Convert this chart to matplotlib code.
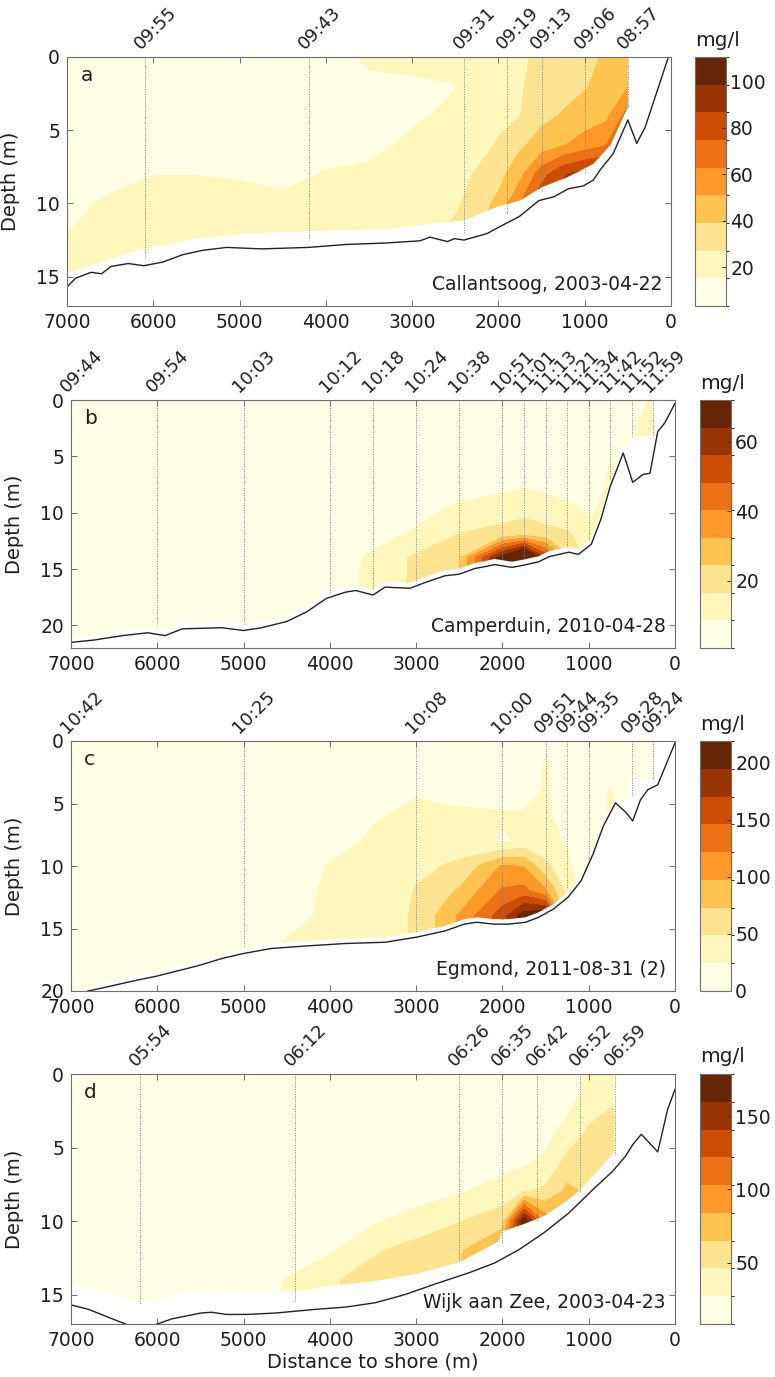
import numpy as np
import matplotlib
matplotlib.use("Agg")
import matplotlib.pyplot as plt
from matplotlib.patches import Polygon
from matplotlib.colors import ListedColormap, BoundaryNorm
from matplotlib.cm import ScalarMappable

plt.rcParams['font.family'] = ['DejaVu Sans']

# 9-class yellow-orange-brown scale used in all panels
band_colors = ['#ffffe5', '#fff7bc', '#fee391', '#fec44f', '#fe9929',
               '#ec7014', '#cc4c02', '#993404', '#662506']

# distance to shore of the concentration profiles (m)
grid_x = [7000, 6500, 6000, 5500, 5000, 4500, 4000, 3500, 3000, 2500,
          2000, 1750, 1500, 1250, 1000, 750, 500, 250, 0]

# ---------------- panel a: Callantsoog ----------------
a_depth = [0, 2, 4, 6, 8, 10, 12, 14, 16, 18]
a_profiles = [
    [8, 8, 8, 8, 9, 11, 15, 20, 20, 20],
    [8, 8, 8, 8, 10, 18, 21, 24, 24, 24],
    [8, 8, 8, 8, 15, 20, 22, 32, 32, 32],
    [8, 8, 8, 8, 15, 21, 22, 30, 30, 30],
    [8, 8, 8, 8, 14, 20, 21, 24, 24, 24],
    [8, 8, 8, 8, 12, 18, 20, 21, 21, 21],
    [8, 8, 8, 11, 16, 20, 20, 21, 21, 21],
    [18, 12, 12, 13, 17, 20, 21, 22, 22, 22],
    [19, 13, 14, 17, 19, 21, 23, 25, 25, 25],
    [19, 15, 17, 20, 22, 25, 30, 30, 30, 30],
    [22, 24, 25, 28, 35, 42, 45, 45, 45, 45],
    [25, 26, 27, 37, 47, 62, 62, 62, 62, 62],
    [30, 32, 36, 44, 70, 85, 85, 85, 85, 85],
    [32, 35, 40, 50, 85, 95, 95, 95, 95, 95],
    [33, 38, 45, 56, 92, 100, 100, 100, 100, 100],
    [42, 44, 48, 62, 95, 100, 100, 100, 100, 100],
    [45, 50, 68, 95, 100, 100, 100, 100, 100, 100],
    [45, 50, 68, 95, 100, 100, 100, 100, 100, 100],
    [45, 50, 68, 95, 100, 100, 100, 100, 100, 100],
]
a_levels = [3.4, 15.3, 27.2, 39.1, 51.0, 62.9, 74.7, 86.6, 98.5, 110.4]
a_cticks = [20, 40, 60, 80, 100]
a_bed_x = [7000, 6900, 6720, 6600, 6490, 6290, 6110, 5890, 5660, 5430, 5150, 4745,
           4200, 3770, 3310, 2910, 2795, 2590, 2510, 2400, 2280, 2130, 1990, 1760,
           1530, 1360, 1190, 1015, 900, 820, 670, 500, 397, 300, 30]
a_bed_z = [15.7, 15.1, 14.7, 14.8, 14.3, 14.1, 14.25, 14.0, 13.5, 13.2, 13.0, 13.1,
           13.0, 12.8, 12.7, 12.55, 12.3, 12.6, 12.4, 12.5, 12.3, 12.05, 11.6, 10.9,
           9.8, 9.55, 9.0, 8.8, 8.4, 7.7, 6.6, 4.3, 5.9, 4.8, 0.0]
a_floor_x = [7000, 6700, 6300, 6100, 5500, 4900, 4200, 3200, 2800, 2400, 2000,
             1750, 1500, 1200, 900, 700, 500]
a_floor_z = [14.8, 14.2, 13.4, 13.1, 12.4, 12.05, 11.9, 11.7, 11.4, 11.15, 10.2,
             9.8, 8.9, 8.2, 7.3, 6.0, 3.4]
a_station_x = [6100, 4200, 2400, 1900, 1500, 1000, 500]
a_station_t = ['09:55', '09:43', '09:31', '09:19', '09:13', '09:06', '08:57']
a_station_bottom = [13.7, 12.5, 12.0, 10.7, 9.2, 8.0, 3.4]

# ---------------- panel b: Camperduin ----------------
b_depth = [0, 2, 4, 6, 8, 10, 12, 14, 16, 18, 20, 22]
b_profiles = [
    [4, 4, 4, 4, 4, 4, 4, 4, 4, 4, 4, 4],
    [4, 4, 4, 4, 4, 4, 4, 4, 4, 4, 4, 4],
    [4, 4, 4, 4, 4, 4, 4, 4, 4, 4, 4, 4],
    [4, 4, 4, 4, 4, 4, 4, 4, 4, 4, 4, 4],
    [4, 4, 4, 4, 4, 4, 4, 4, 4, 4, 4, 4],
    [4, 4, 4, 4, 4, 4, 4, 4, 4, 4, 4, 4],
    [4, 4, 4, 4, 4, 4, 4, 4, 4, 4, 4, 4],
    [4, 4, 4, 4, 4, 4, 6, 10, 11, 11, 11, 11],
    [4, 4, 4, 4, 4, 6, 10, 18, 18, 18, 18, 18],
    [4, 4, 4, 4, 6, 11, 17, 23, 23, 23, 23, 23],
    [4, 4, 4, 4, 8, 13, 20, 70, 70, 70, 70, 70],
    [4, 4, 4, 4, 9, 14, 24, 90, 90, 90, 90, 90],
    [4, 4, 4, 4, 8, 12, 20, 55, 55, 55, 55, 55],
    [4, 4, 4, 4, 6, 11, 18, 26, 26, 26, 26, 26],
    [4, 4, 4, 4, 5, 8, 12, 12, 12, 12, 12, 12],
    [4, 4, 5, 9, 10, 10, 10, 10, 10, 10, 10, 10],
    [5, 7, 8, 8, 8, 8, 8, 8, 8, 8, 8, 8],
    [10, 12, 17, 17, 17, 17, 17, 17, 17, 17, 17, 17],
    [10, 12, 17, 17, 17, 17, 17, 17, 17, 17, 17, 17],
]
b_levels = [0.7, 8.6, 16.5, 24.4, 32.3, 40.3, 48.2, 56.1, 64.0, 71.9]
b_cticks = [20, 40, 60]
b_bed_x = [7000, 6740, 6400, 6110, 5910, 5710, 5250, 5000, 4790, 4500, 4270, 4040,
           3820, 3700, 3500, 3360, 3070, 2900, 2670, 2500, 2320, 2180, 2090, 1890,
           1750, 1580, 1460, 1230, 1120, 970, 860, 750, 600, 490, 370, 290, 200, 120, 0]
b_bed_z = [21.5, 21.3, 20.9, 20.65, 20.9, 20.3, 20.2, 20.45, 20.2, 19.65, 18.8, 17.6,
           17.05, 16.9, 17.3, 16.6, 16.7, 16.2, 15.6, 15.45, 14.95, 14.75, 14.6, 14.85,
           14.65, 14.35, 13.9, 13.5, 13.7, 12.8, 10.6, 7.65, 4.7, 7.3, 6.6, 6.5, 2.8, 2.05, 0.3]
b_floor_x = [7000, 6740, 6400, 6110, 5910, 5710, 5250, 5000, 4790, 4500, 4270, 4040,
             3820, 3700, 3500, 3360, 3070, 2900, 2670, 2500, 2320, 2180, 2090, 1890,
             1750, 1580, 1460, 1230, 1120, 970, 860, 750, 620, 540, 500, 250]
b_floor_z = [21.0, 20.8, 20.4, 20.15, 20.4, 19.8, 19.7, 19.95, 19.7, 19.15, 18.3, 17.1,
             16.55, 16.4, 16.8, 16.1, 16.2, 15.7, 15.1, 14.95, 14.45, 14.25, 14.1, 14.35,
             14.15, 13.85, 13.4, 13.0, 13.2, 12.3, 10.1, 7.15, 4.3, 4.0, 3.3, 3.1]
b_station_x = [7000, 6000, 5000, 4000, 3500, 3000, 2500, 2000, 1750, 1500, 1250,
               1000, 750, 500, 250]
b_station_t = ['09:44', '09:54', '10:03', '10:12', '10:18', '10:24', '10:38', '10:51',
               '11:01', '11:13', '11:21', '11:34', '11:42', '11:52', '11:59']
b_station_bottom = [21.0, 19.9, 19.9, 17.1, 16.8, 16.2, 14.9, 14.1, 14.1, 13.6, 13.0,
                    12.4, 7.1, 3.3, 3.1]

# ---------------- panel c: Egmond ----------------
c_depth = [0, 2, 4, 6, 8, 10, 12, 14, 16, 18, 20]
c_profiles = [
    [10, 10, 10, 10, 10, 10, 10, 10, 10, 10, 10],
    [10, 10, 10, 10, 10, 10, 10, 10, 10, 10, 10],
    [10, 10, 10, 10, 10, 10, 10, 10, 10, 10, 10],
    [10, 10, 10, 10, 10, 10, 10, 10, 10, 10, 10],
    [10, 10, 10, 10, 10, 10, 10, 10, 10, 10, 10],
    [10, 10, 10, 10, 10, 10, 10, 12, 26, 26, 26],
    [10, 10, 10, 10, 14, 26, 30, 32, 32, 32, 32],
    [10, 10, 10, 22, 28, 30, 32, 34, 34, 34, 34],
    [10, 10, 22, 30, 32, 44, 50, 52, 52, 52, 52],
    [10, 10, 14, 30, 40, 52, 76, 100, 100, 100, 100],
    [10, 10, 12, 28, 20, 100, 125, 160, 160, 160, 160],
    [10, 10, 12, 28, 30, 95, 130, 210, 210, 210, 210],
    [22, 26, 27, 28, 30, 55, 100, 220, 220, 220, 220],
    [12, 12, 12, 16, 22, 28, 40, 40, 40, 40, 40],
    [10, 10, 10, 10, 10, 10, 10, 10, 10, 10, 10],
    [10, 10, 26, 26, 26, 26, 26, 26, 26, 26, 26],
    [10, 10, 10, 10, 10, 10, 10, 10, 10, 10, 10],
    [10, 10, 10, 10, 10, 10, 10, 10, 10, 10, 10],
    [10, 10, 10, 10, 10, 10, 10, 10, 10, 10, 10],
]
c_levels = [0, 24.3, 48.7, 73.0, 97.3, 121.7, 146.0, 170.3, 194.7, 219.0]
c_cticks = [0, 50, 100, 150, 200]
c_bed_x = [7000, 6800, 6600, 6280, 6000, 5540, 5250, 5000, 4680, 4280, 3820, 3360,
           3000, 2670, 2440, 2300, 2100, 1930, 1730, 1580, 1410, 1240, 1090, 950,
           830, 690, 570, 490, 400, 315, 200, 0]
c_bed_z = [20.4, 20.0, 19.7, 19.2, 18.8, 18.0, 17.4, 17.0, 16.6, 16.4, 16.2, 16.1,
           15.7, 15.2, 14.65, 14.5, 14.65, 14.65, 14.5, 14.1, 13.45, 12.5, 11.2, 9.05,
           6.8, 4.95, 5.7, 6.4, 4.7, 3.9, 3.5, 0.15]
c_floor_x = [7000, 6800, 6600, 6280, 6000, 5540, 5250, 5000, 4680, 4280, 3820, 3360,
             3000, 2670, 2440, 2300, 2100, 1930, 1730, 1580, 1410, 1240, 1090, 950,
             830, 690, 600, 500, 250]
c_floor_z = [20.0, 19.6, 19.3, 18.8, 18.4, 17.6, 17.0, 16.6, 16.2, 16.0, 15.8, 15.7,
             15.3, 14.8, 14.25, 14.1, 14.25, 14.25, 14.1, 13.7, 13.05, 12.1, 10.8, 8.65,
             6.4, 4.6, 5.0, 3.0, 3.0]
c_station_x = [7000, 5000, 3000, 2000, 1500, 1250, 1000, 500, 250]
c_station_t = ['10:42', '10:25', '10:08', '10:00', '09:51', '09:44', '09:35', '09:28', '09:24']
c_station_bottom = [20.0, 16.5, 15.3, 14.3, 14.0, 11.8, 9.5, 4.3, 3.0]

# ---------------- panel d: Wijk aan Zee ----------------
d_depth = [0, 2, 4, 6, 8, 10, 12, 14, 16, 18]
d_profiles = [
    [15, 15, 15, 15, 15, 15, 15, 15, 15, 15],
    [15, 15, 15, 15, 15, 15, 15, 15, 15, 15],
    [15, 15, 15, 15, 15, 15, 15, 15, 15, 15],
    [15, 15, 15, 15, 15, 15, 15, 15, 15, 15],
    [15, 15, 15, 15, 15, 15, 15, 15, 15, 15],
    [15, 15, 15, 15, 15, 15, 15, 28, 30, 30],
    [15, 15, 15, 15, 15, 15, 24, 44, 44, 44],
    [15, 15, 15, 15, 15, 24, 44, 52, 52, 52],
    [15, 15, 15, 15, 17, 36, 52, 55, 55, 55],
    [15, 15, 15, 15, 25, 45, 62, 66, 66, 66],
    [15, 15, 15, 20, 36, 56, 90, 90, 90, 90],
    [15, 15, 15, 24, 45, 175, 175, 175, 175, 175],
    [15, 15, 22, 30, 50, 95, 95, 95, 95, 95],
    [15, 20, 34, 52, 70, 80, 80, 80, 80, 80],
    [28, 40, 48, 56, 62, 62, 62, 62, 62, 62],
    [38, 44, 55, 58, 58, 58, 58, 58, 58, 58],
    [38, 44, 55, 58, 58, 58, 58, 58, 58, 58],
    [38, 44, 55, 58, 58, 58, 58, 58, 58, 58],
    [38, 44, 55, 58, 58, 58, 58, 58, 58, 58],
]
d_levels = [8, 27, 46, 65, 84, 103, 122, 141, 160, 179]
d_cticks = [50, 100, 150]
d_bed_x = [7000, 6800, 6370, 6200, 6000, 5830, 5490, 5370, 5200, 4960, 4620, 4160,
           3815, 3470, 3130, 2790, 2380, 2090, 1810, 1520, 1230, 950, 720, 575, 490,
           390, 200, 85, 0]
d_bed_z = [15.7, 16.0, 17.0, 17.4, 17.0, 16.65, 16.25, 16.2, 16.35, 16.35, 16.25, 16.0,
           15.85, 15.55, 15.0, 14.3, 13.5, 12.85, 11.95, 10.8, 9.45, 7.85, 6.6, 5.6, 4.8,
           4.1, 5.3, 2.4, 1.05]
d_floor_x = [7000, 6200, 5500, 4400, 4000, 3500, 3000, 2500, 2050, 2000, 1750, 1500,
             1250, 1100, 900, 700]
d_floor_z = [14.2, 15.5, 14.7, 14.8, 14.4, 14.1, 13.6, 12.8, 11.4, 10.7, 10.2, 9.6,
             8.6, 7.9, 6.6, 5.3]
d_station_x = [6200, 4400, 2500, 2000, 1600, 1100, 700]
d_station_t = ['05:54', '06:12', '06:26', '06:35', '06:42', '06:52', '06:59']
d_station_bottom = [15.7, 15.45, 12.7, 11.5, 10.0, 8.0, 5.5]

panels = [
    ('a', 'Callantsoog, 2003-04-22', a_depth, a_profiles, a_levels, a_cticks, 17,
     a_bed_x, a_bed_z, a_floor_x, a_floor_z, a_station_x, a_station_t, a_station_bottom),
    ('b', 'Camperduin, 2010-04-28', b_depth, b_profiles, b_levels, b_cticks, 22,
     b_bed_x, b_bed_z, b_floor_x, b_floor_z, b_station_x, b_station_t, b_station_bottom),
    ('c', 'Egmond, 2011-08-31 (2)', c_depth, c_profiles, c_levels, c_cticks, 20,
     c_bed_x, c_bed_z, c_floor_x, c_floor_z, c_station_x, c_station_t, c_station_bottom),
    ('d', 'Wijk aan Zee, 2003-04-23', d_depth, d_profiles, d_levels, d_cticks, 17,
     d_bed_x, d_bed_z, d_floor_x, d_floor_z, d_station_x, d_station_t, d_station_bottom),
]

# axes boxes in pixels: left, top, bottom (figure is 775 x 1377)
W, H = 775, 1377
boxes = [(67, 57, 306), (71, 400, 648), (71, 741, 991), (71, 1074, 1324)]
cbar_left = [695, 700, 700, 700]

fig = plt.figure(figsize=(W / 100, H / 100), dpi=100)
frame_col = '#6e6e6e'
text_col = '#1e1e1e'

for i, (letter, place, depth, profiles, levels, cticks, zmax,
        bed_x, bed_z, floor_x, floor_z, st_x, st_t, st_bot) in enumerate(panels):
    left, top, bottom = boxes[i]
    ax = fig.add_axes([left / W, 1 - bottom / H, 604 / W, (bottom - top) / H])
    cax = fig.add_axes([cbar_left[i] / W, 1 - bottom / H, 31 / W, (bottom - top) / H])

    conc = np.array(profiles, dtype=float).T
    fill_levels = [-1e6] + levels[1:-1] + [1e6]
    cs = ax.contourf(grid_x, depth, conc, levels=fill_levels, colors=band_colors)

    # only the measured part of the section is coloured
    verts = [(floor_x[0], 0), (floor_x[-1], 0)] + list(zip(floor_x[::-1], floor_z[::-1]))
    clip = Polygon(verts, closed=True, transform=ax.transData)
    cs.set_clip_path(clip)

    ax.plot(bed_x, bed_z, color='#222222', lw=1.0)

    for sx, st, sb in zip(st_x, st_t, st_bot):
        ax.plot([sx, sx], [0, sb], color='#808080', lw=0.7, ls=(0, (1, 1.5)))
        ax.annotate(st, xy=(sx, 1.0), xycoords=ax.get_xaxis_transform(),
                    xytext=(-1, 3), textcoords='offset points', rotation=45,
                    rotation_mode='anchor', ha='left', va='bottom',
                    fontsize=13, color=text_col)

    ax.set_xlim(7000, 0)
    ax.set_ylim(zmax, 0)
    ax.set_xticks(range(7000, -1, -1000))
    ax.set_yticks(range(0, zmax + 1, 5))
    ax.tick_params(direction='in', top=True, right=True, length=4, width=0.7,
                   color=frame_col, labelsize=13.5, labelcolor=text_col, pad=5)
    for sp in ax.spines.values():
        sp.set_color(frame_col)
        sp.set_linewidth(0.8)
    ax.set_ylabel('Depth (m)', fontsize=14, color=text_col)
    ax.yaxis.set_label_coords(-0.078, 0.5)

    ax.text(0.022, 0.925, letter, transform=ax.transAxes, ha='left', va='center',
            fontsize=14.5, color=text_col)
    ax.text(0.985, 0.085, place, transform=ax.transAxes, ha='right', va='center',
            fontsize=13.5, color=text_col)

    sm = ScalarMappable(norm=BoundaryNorm(levels, len(band_colors)),
                        cmap=ListedColormap(band_colors))
    cb = fig.colorbar(sm, cax=cax, ticks=cticks)
    cb.outline.set_edgecolor(frame_col)
    cb.outline.set_linewidth(0.8)
    cax.tick_params(direction='in', length=3, width=0.7, color='#333333',
                    labelsize=13.5, labelcolor=text_col, pad=3)
    cax.text(0.0, 1.03, 'mg/l', transform=cax.transAxes, ha='left', va='bottom',
             fontsize=14.5, color=text_col)

    if i == 3:
        ax.set_xlabel('Distance to shore (m)', fontsize=14, color=text_col, labelpad=2)

fig.savefig('out.png', dpi=100)
